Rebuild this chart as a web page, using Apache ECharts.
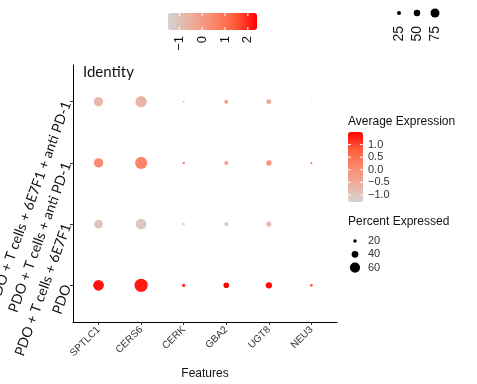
<!DOCTYPE html>
<html>
<head>
<meta charset="utf-8">
<script src="https://cdn.jsdelivr.net/npm/echarts@6/dist/echarts.min.js"></script>
<style>html,body{margin:0;padding:0;background:#fff;}#chart{width:477px;height:384px;}</style>
</head>
<body>
<div id="chart"></div>
<script>
// ---- data ----
const genes = ['SPTLC1', 'CERS6', 'CERK', 'GBA2', 'UGT8', 'NEU3'];
// groups from bottom to top
const groups = ['PDO', 'PDO + T cells + 6E7F1', 'PDO + T cells + anti PD-1', 'PDO + T cells + 6E7F1 + anti PD-1'];
// percent expressed per group (gene order as in genes)
const pctPDO      = [63, 78, 19, 33, 37, 16];
const pct6E7F1    = [51, 63, 14, 22, 31, 6];
const pctAntiPD1  = [55, 71, 14, 24, 31, 12];
const pctBoth     = [55, 66, 10, 24, 29, 6];
// scaled average expression per group
const avgPDO      = [1.35, 1.3, 1.2, 1.5, 1.45, 0.9];
const avg6E7F1    = [-1.0, -1.05, -0.9, -0.8, -0.8, -0.85];
const avgAntiPD1  = [0.1, 0.2, 0.4, -0.4, -0.1, 0.6];
const avgBoth     = [-0.75, -0.7, -0.8, -0.3, -0.55, -0.85];
// legend ticks
const avgTicks = [1.0, 0.5, 0.0, -0.5, -1.0];
const avgTickLabels = ['1.0', '0.5', '0.0', '\u22120.5', '\u22121.0'];
const pctTicks = [20, 40, 60];
const topColorTicks = [-1, 0, 1, 2];
const topColorTickLabels = ['\u22121', '0', '1', '2'];
const topSizeTicks = [25, 50, 75];

// ---- build ----
const pctByGroup = [pctPDO, pct6E7F1, pctAntiPD1, pctBoth];
const avgByGroup = [avgPDO, avg6E7F1, avgAntiPD1, avgBoth];
const points = [];
groups.forEach((g, gi) => {
  genes.forEach((ge, xi) => {
    points.push([xi + 1, gi + 1, pctByGroup[gi][xi], avgByGroup[gi][xi]]);
  });
});

const colorStops = ['#D3D3D3', '#ECAF9F', '#F9896E', '#FF5D3D', '#FF0000'];
const sizeOf = p => p * 0.17;
const topSizeOf = p => p * 0.1 + 1.5;

// right colour bar geometry
const cbLeft = 348, cbTop = 132, cbW = 15, cbH = 70, cbMin = -1.28, cbMax = 1.5;
// top colour bar geometry
const tbLeft = 168, tbTop = 13, tbW = 89, tbH = 17, tbMin = -1.5, tbMax = 2.4;

const graphics = [];
const legendFont = '"Liberation Sans", Arial, sans-serif';
// Identity title
graphics.push({type: 'text', x: 83, y: 72, style: {text: 'Identity', font: '15px Lato, "Open Sans", sans-serif', fill: '#111', verticalAlign: 'middle'}});
// Average Expression legend
graphics.push({type: 'text', x: 348, y: 122, style: {text: 'Average Expression', font: '12px ' + legendFont, fill: '#111', verticalAlign: 'middle'}});
avgTicks.forEach((v, i) => {
  const y = cbTop + (cbMax - v) / (cbMax - cbMin) * cbH;
  graphics.push({type: 'text', x: 368, y: y, style: {text: avgTickLabels[i], font: '11px ' + legendFont, fill: '#333', verticalAlign: 'middle'}});
  graphics.push({type: 'line', shape: {x1: cbLeft, y1: y, x2: cbLeft + 3, y2: y}, style: {stroke: '#fff', lineWidth: 1}, z: 100});
  graphics.push({type: 'line', shape: {x1: cbLeft + cbW - 3, y1: y, x2: cbLeft + cbW, y2: y}, style: {stroke: '#fff', lineWidth: 1}, z: 100});
});
// Percent Expressed legend
graphics.push({type: 'text', x: 348, y: 222, style: {text: 'Percent Expressed', font: '12px ' + legendFont, fill: '#111', verticalAlign: 'middle'}});
pctTicks.forEach((p, i) => {
  const y = 241 + i * 13.3;
  graphics.push({type: 'circle', shape: {cx: 355, cy: y, r: sizeOf(p) / 2}, style: {fill: '#000'}});
  graphics.push({type: 'text', x: 368, y: y, style: {text: String(p), font: '11px ' + legendFont, fill: '#333', verticalAlign: 'middle'}});
});
// top colour bar labels
topColorTicks.forEach((v, i) => {
  const x = tbLeft + (v - tbMin) / (tbMax - tbMin) * tbW;
  graphics.push({type: 'text', x: x, y: 36, rotation: Math.PI / 2, style: {text: topColorTickLabels[i], font: '13px ' + legendFont, fill: '#111', align: 'right', verticalAlign: 'middle'}});
  graphics.push({type: 'line', shape: {x1: x, y1: tbTop, x2: x, y2: tbTop + 3}, style: {stroke: '#fff', lineWidth: 1}, z: 100});
  graphics.push({type: 'line', shape: {x1: x, y1: tbTop + tbH - 3, x2: x, y2: tbTop + tbH}, style: {stroke: '#fff', lineWidth: 1}, z: 100});
});
// top size legend
topSizeTicks.forEach((p, i) => {
  const x = 399 + i * 18;
  graphics.push({type: 'circle', shape: {cx: x, cy: 13, r: topSizeOf(p) / 2}, style: {fill: '#000'}});
  graphics.push({type: 'text', x: x, y: 26, rotation: Math.PI / 2, style: {text: String(p), font: '14px ' + legendFont, fill: '#111', align: 'right', verticalAlign: 'middle'}});
});

const chart = echarts.init(document.getElementById('chart'), null, {renderer: 'canvas'});
chart.setOption({
  animation: false,
  backgroundColor: '#fff',
  grid: {left: 73, right: 140, top: 65, bottom: 62, outerBoundsMode: 'none', containLabel: false},
  xAxis: {
    type: 'value', min: 0.4, max: 6.6,
    name: 'Features', nameLocation: 'middle', nameGap: 46,
    nameTextStyle: {fontFamily: legendFont, fontSize: 12, color: '#111'},
    axisLine: {show: true, lineStyle: {color: '#000', width: 1}},
    axisTick: {show: true, length: 3, customValues: genes.map((g, i) => i + 1), lineStyle: {color: '#333'}},
    axisLabel: {customValues: genes.map((g, i) => i + 1), formatter: v => genes[Math.round(v) - 1] || '',
      rotate: 45, margin: 6, fontFamily: legendFont, fontSize: 10, color: '#333'},
    splitLine: {show: false}
  },
  yAxis: {
    type: 'value', min: 0.4, max: 4.6,
    axisLine: {show: true, lineStyle: {color: '#000', width: 1}},
    axisTick: {show: true, length: 3, customValues: groups.map((g, i) => i + 1), lineStyle: {color: '#333'}},
    axisLabel: {customValues: groups.map((g, i) => i + 1), formatter: v => groups[Math.round(v) - 1] || '',
      rotate: 70, align: 'right', verticalAlign: 'middle', margin: 6,
      fontFamily: 'Lato, "Open Sans", sans-serif', fontSize: 14, color: '#111'},
    splitLine: {show: false}
  },
  visualMap: [
    {type: 'continuous', seriesIndex: 0, dimension: 3, min: cbMin, max: cbMax,
     orient: 'vertical', left: cbLeft, top: cbTop, itemWidth: cbW, itemHeight: cbH, padding: 0,
     text: null, showLabel: false, calculable: false, inRange: {color: colorStops}},
    {type: 'continuous', seriesIndex: 1, dimension: 0, min: tbMin, max: tbMax,
     orient: 'horizontal', left: tbLeft, top: tbTop, itemWidth: tbH, itemHeight: tbW, padding: 0,
     text: null, showLabel: false, calculable: false, inRange: {color: colorStops}}
  ],
  series: [
    {type: 'scatter', data: points, symbolSize: d => sizeOf(d[2]), itemStyle: {opacity: 1}},
    {type: 'scatter', data: []}
  ],
  graphic: graphics
});
</script>
</body>
</html>
